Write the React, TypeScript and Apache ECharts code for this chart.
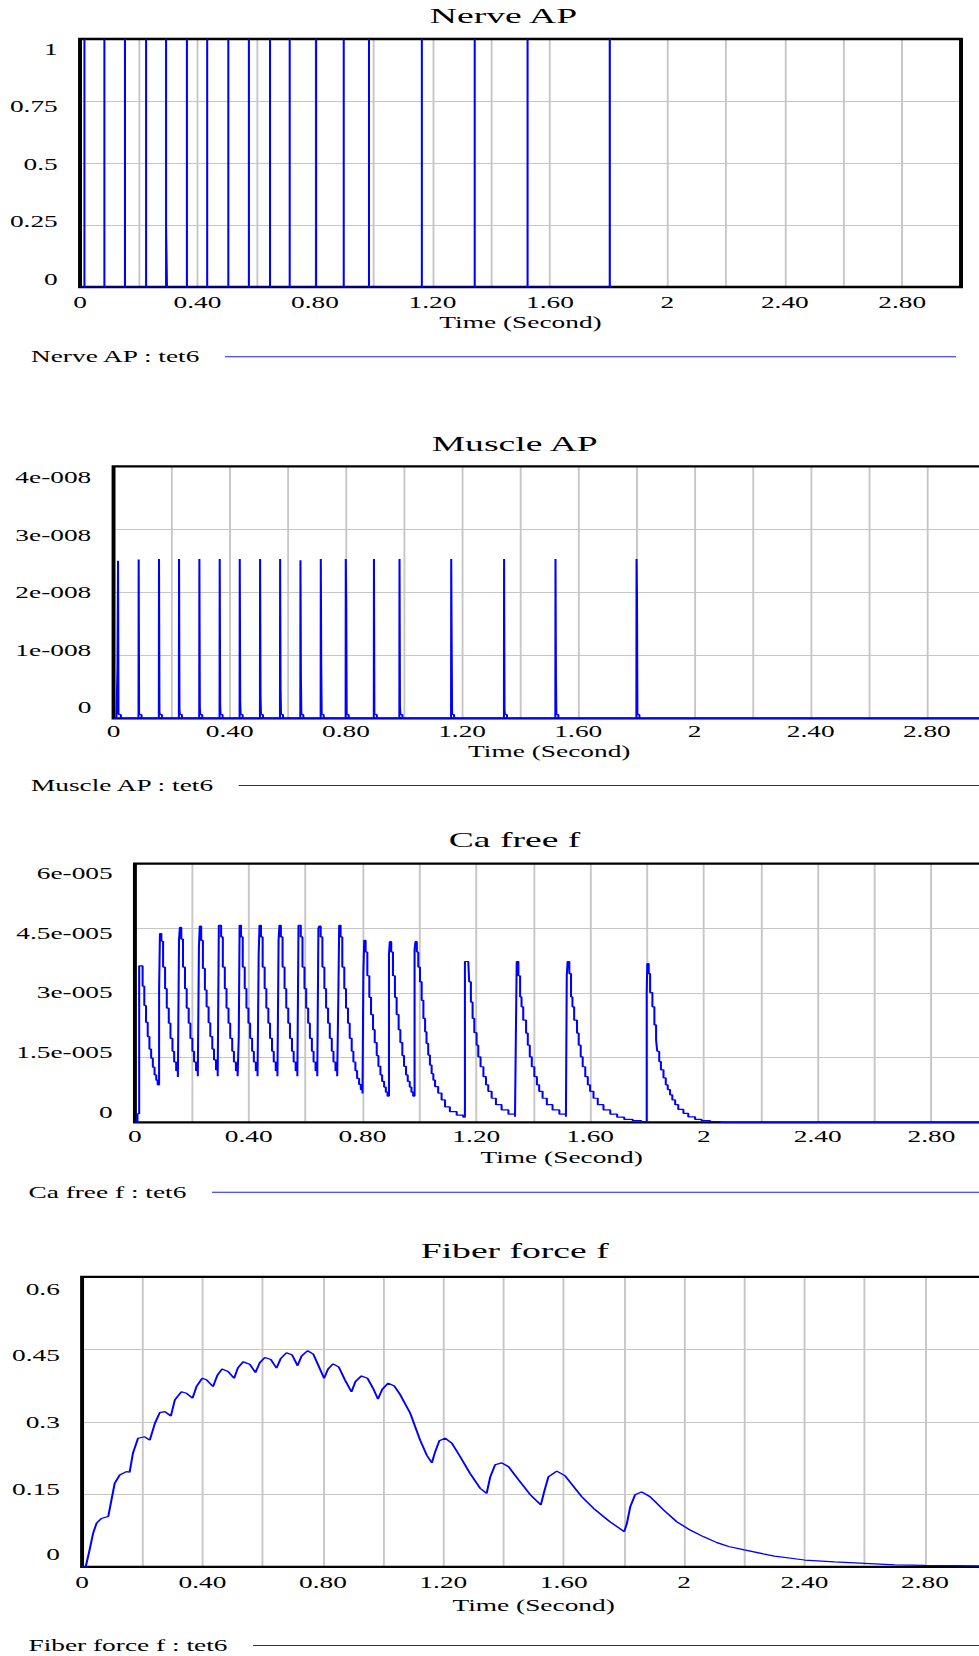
import React, { useEffect, useRef } from 'react';
import * as echarts from 'echarts';

// ---------- layout constants (the reference is horizontally stretched) ----------
const STRETCH = 1.71;
const PAGE_W = 573;
const PAGE_H = 1656;
const FONT = "'Liberation Serif', 'Times New Roman', Times, serif";
const BLUE = '#0000ff';
const GRID_GRAY = '#c6c6c6';

// ---------- data ----------
const timeTickLabels = ['0', '0.40', '0.80', '1.20', '1.60', '2', '2.40', '2.80'];
const timeAxisName = 'Time (Second)';

const nerveYLabels = ['0', '0.25', '0.5', '0.75', '1'];
const muscleYLabels = ['0', '1e-008', '2e-008', '3e-008', '4e-008'];
const caYLabels = ['0', '1.5e-005', '3e-005', '4.5e-005', '6e-005'];
const forceYLabels = ['0', '0.15', '0.3', '0.45', '0.6'];

const chartTitles = ['Nerve AP', 'Muscle AP', 'Ca free f', 'Fiber force f'];
const seriesNames = ['Nerve AP : tet6', 'Muscle AP : tet6', 'Ca free f : tet6', 'Fiber force f : tet6'];

// Nerve AP: spike times (s), level left after the down-stroke
const nerveSpikeTimes = [0.015, 0.083, 0.153, 0.225, 0.293, 0.364, 0.433, 0.505, 0.575, 0.647, 0.714, 0.804, 0.898, 0.984, 1.164, 1.344, 1.524, 1.804];
const nerveTailLevels = [0, 0, 0, 0, 0.25, 0, 0, 0, 0, 0, 0, 0, 0, 0, 0, 0, 0, 0];
const nerveLastTime = 1.806;

// Muscle AP (units of 1e-8): spike times, peak, level right after the peak
const muscleSpikeTimes = [0.015, 0.086, 0.156, 0.225, 0.295, 0.365, 0.434, 0.504, 0.573, 0.643, 0.713, 0.799, 0.896, 0.984, 1.162, 1.344, 1.521, 1.8];
const musclePeakE8 = [2.5, 2.52, 2.53, 2.53, 2.53, 2.53, 2.53, 2.53, 2.53, 2.51, 2.53, 2.53, 2.53, 2.53, 2.53, 2.53, 2.53, 2.53];
const muscleDropE8 = [0.08, 0.08, 0.11, 0.13, 0.17, 0.23, 0.28, 0.36, 0.47, 0.63, 0.82, 1.83, 0.08, 0.18, 1.19, 0.13, 0.66, 1.93];
const muscleFirstRiseE8 = 0.8;
const muscleBumpE8 = 0.06;

// Ca free f (units of 1e-5), [time, value], drawn as a sample-and-hold staircase
const caFreeE5: [number, number][] = [
  [0, 0], [0.009, 0.2],
  [0.015, 3.63], [0.027, 3.16], [0.033, 2.71], [0.039, 2.32], [0.045, 1.99], [0.051, 1.7], [0.057, 1.49], [0.063, 1.28], [0.069, 1.1], [0.075, 0.98], [0.08, 0.87],
  [0.085, 3.07], [0.088, 4.38], [0.093, 4.2], [0.099, 3.6], [0.106, 3.1], [0.112, 2.65], [0.119, 2.3], [0.125, 1.95], [0.132, 1.65], [0.138, 1.4], [0.145, 1.2], [0.151, 1.05],
  [0.155, 4.22], [0.158, 4.52], [0.163, 4.25], [0.169, 3.6], [0.176, 3.1], [0.182, 2.65], [0.189, 2.3], [0.195, 1.95], [0.202, 1.65], [0.208, 1.4], [0.215, 1.2], [0.221, 1.07],
  [0.225, 4.06], [0.228, 4.55], [0.233, 4.22], [0.239, 3.57], [0.246, 3.07], [0.252, 2.68], [0.259, 2.31], [0.265, 1.99], [0.272, 1.7], [0.278, 1.45], [0.285, 1.22], [0.291, 1.07],
  [0.295, 4.57], [0.298, 4.57], [0.303, 4.3], [0.309, 3.6], [0.316, 3.1], [0.322, 2.65], [0.329, 2.3], [0.335, 1.95], [0.342, 1.65], [0.348, 1.4], [0.355, 1.2], [0.361, 1.07],
  [0.365, 2.0], [0.368, 4.57], [0.373, 4.3], [0.379, 3.6], [0.386, 3.1], [0.392, 2.65], [0.399, 2.3], [0.405, 1.95], [0.412, 1.65], [0.418, 1.4], [0.425, 1.2], [0.431, 1.07],
  [0.435, 3.9], [0.438, 4.57], [0.443, 4.3], [0.449, 3.6], [0.456, 3.1], [0.462, 2.65], [0.469, 2.3], [0.475, 1.95], [0.482, 1.65], [0.488, 1.4], [0.495, 1.2], [0.501, 1.07],
  [0.505, 4.22], [0.508, 4.57], [0.513, 4.3], [0.519, 3.6], [0.526, 3.1], [0.532, 2.65], [0.539, 2.3], [0.545, 1.95], [0.552, 1.65], [0.558, 1.4], [0.565, 1.2], [0.571, 1.07],
  [0.575, 4.57], [0.578, 4.57], [0.583, 4.3], [0.589, 3.6], [0.596, 3.1], [0.602, 2.65], [0.609, 2.3], [0.615, 1.95], [0.622, 1.65], [0.628, 1.4], [0.635, 1.2], [0.641, 1.07],
  [0.645, 4.5], [0.648, 4.55], [0.653, 4.3], [0.659, 3.6], [0.666, 3.1], [0.672, 2.65], [0.679, 2.3], [0.685, 1.95], [0.692, 1.65], [0.698, 1.4], [0.705, 1.2], [0.711, 1.07],
  [0.715, 2.9], [0.718, 4.57], [0.723, 4.3], [0.729, 3.6], [0.736, 3.1], [0.742, 2.65], [0.749, 2.3], [0.755, 1.95], [0.762, 1.65], [0.768, 1.4], [0.775, 1.2], [0.781, 1.02], [0.788, 0.88], [0.794, 0.76], [0.8, 0.67],
  [0.803, 3.47], [0.806, 4.22], [0.811, 3.95], [0.817, 3.4], [0.824, 2.9], [0.83, 2.5], [0.837, 2.15], [0.843, 1.85], [0.85, 1.55], [0.856, 1.3], [0.863, 1.1], [0.869, 0.95], [0.876, 0.82], [0.882, 0.7], [0.888, 0.61],
  [0.893, 3.9], [0.896, 4.19], [0.901, 3.95], [0.907, 3.4], [0.914, 2.9], [0.92, 2.5], [0.927, 2.15], [0.933, 1.85], [0.94, 1.55], [0.946, 1.3], [0.953, 1.1], [0.959, 0.95], [0.966, 0.82], [0.972, 0.7], [0.978, 0.61],
  [0.983, 4.0], [0.986, 4.19], [0.991, 3.95], [0.996, 3.6], [1.002, 3.26], [1.008, 2.83], [1.014, 2.41], [1.02, 2.1], [1.025, 1.83], [1.031, 1.56], [1.037, 1.33], [1.043, 1.13], [1.049, 0.98], [1.055, 0.83], [1.066, 0.68], [1.078, 0.52], [1.09, 0.36], [1.107, 0.25], [1.131, 0.17], [1.154, 0.12],
  [1.16, 3.73], [1.172, 3.69], [1.175, 3.26], [1.181, 2.79], [1.187, 2.41], [1.193, 2.08], [1.201, 1.79], [1.207, 1.52], [1.215, 1.29], [1.225, 1.06], [1.234, 0.87], [1.242, 0.72], [1.254, 0.56], [1.269, 0.41], [1.289, 0.29], [1.313, 0.19], [1.336, 0.13],
  [1.339, 1.96], [1.342, 3.73], [1.348, 3.4], [1.354, 2.91], [1.359, 2.68], [1.365, 2.37], [1.375, 2.07], [1.381, 1.79], [1.388, 1.52], [1.395, 1.29], [1.404, 1.06], [1.413, 0.87], [1.421, 0.72], [1.433, 0.56], [1.448, 0.41], [1.468, 0.29], [1.492, 0.19], [1.515, 0.13],
  [1.518, 3.41], [1.521, 3.73], [1.527, 3.45], [1.533, 2.91], [1.538, 2.68], [1.544, 2.37], [1.554, 2.07], [1.56, 1.79], [1.567, 1.52], [1.574, 1.29], [1.583, 1.06], [1.592, 0.87], [1.6, 0.72], [1.612, 0.56], [1.627, 0.41], [1.647, 0.29], [1.671, 0.19], [1.695, 0.12], [1.72, 0.07], [1.75, 0.04], [1.78, 0.02],
  [1.799, 3.01], [1.801, 3.68], [1.806, 3.45], [1.811, 3.01], [1.819, 2.68], [1.826, 2.26], [1.832, 1.91], [1.836, 1.65], [1.843, 1.41], [1.849, 1.22], [1.858, 1.03], [1.866, 0.87], [1.873, 0.76], [1.881, 0.64], [1.889, 0.52], [1.899, 0.41], [1.91, 0.3], [1.928, 0.21], [1.945, 0.13], [1.969, 0.07], [1.992, 0.04], [2.022, 0.02], [2.06, 0], [3.0, 0],
];

// Fiber force f, [time, value]
const fiberForce: [number, number][] = [
  [0, 0], [0.012, 0], [0.014, 0], [0.025, 0.035], [0.0365, 0.069], [0.048, 0.09], [0.064, 0.1], [0.087, 0.104],
  [0.0975, 0.138], [0.1085, 0.173], [0.125, 0.19], [0.147, 0.197], [0.158, 0.196], [0.169, 0.235], [0.186, 0.266],
  [0.208, 0.269], [0.225, 0.262], [0.242, 0.297], [0.258, 0.319], [0.275, 0.321], [0.295, 0.312], [0.308, 0.345],
  [0.33, 0.362], [0.347, 0.359], [0.367, 0.349], [0.38, 0.373], [0.399, 0.39], [0.413, 0.387], [0.435, 0.373],
  [0.45, 0.397], [0.465, 0.409], [0.485, 0.404], [0.505, 0.39], [0.518, 0.412], [0.535, 0.424], [0.557, 0.419],
  [0.576, 0.402], [0.59, 0.422], [0.607, 0.433], [0.627, 0.429], [0.646, 0.411], [0.66, 0.431], [0.679, 0.443],
  [0.698, 0.438], [0.716, 0.416], [0.729, 0.436], [0.749, 0.447], [0.768, 0.44], [0.784, 0.418], [0.804, 0.39],
  [0.817, 0.409], [0.834, 0.42], [0.853, 0.413], [0.873, 0.387], [0.895, 0.362], [0.908, 0.383], [0.928, 0.395],
  [0.948, 0.39], [0.967, 0.369], [0.983, 0.347], [0.997, 0.367], [1.017, 0.38], [1.037, 0.374], [1.056, 0.357],
  [1.09, 0.318], [1.123, 0.262], [1.145, 0.231], [1.162, 0.215], [1.173, 0.238], [1.187, 0.261], [1.206, 0.266],
  [1.228, 0.256], [1.256, 0.228], [1.289, 0.193], [1.323, 0.162], [1.344, 0.152], [1.356, 0.186], [1.372, 0.211],
  [1.394, 0.215], [1.417, 0.207], [1.45, 0.18], [1.489, 0.149], [1.524, 0.128], [1.535, 0.155], [1.549, 0.186],
  [1.577, 0.198], [1.605, 0.188], [1.66, 0.145], [1.699, 0.121], [1.754, 0.093], [1.801, 0.073], [1.81, 0.09],
  [1.821, 0.124], [1.837, 0.149], [1.859, 0.155], [1.887, 0.145], [1.931, 0.118], [1.976, 0.093], [2.02, 0.076],
  [2.065, 0.062], [2.109, 0.05], [2.148, 0.042], [2.2, 0.035], [2.3, 0.022], [2.4, 0.014], [2.5, 0.01],
  [2.6, 0.007], [2.7, 0.004], [2.8, 0.003], [3.0, 0.002],
];

// ---------- series builders (from the read values) ----------
function buildNerve(): number[][] {
  const pts: number[][] = [[0, 0]];
  nerveSpikeTimes.forEach((t, i) => {
    pts.push([t, 0], [t, 1]);
    if (nerveTailLevels[i] > 0) pts.push([t, nerveTailLevels[i]], [t + 0.003, 0]);
    else pts.push([t, 0]);
  });
  pts.push([nerveLastTime, 0]);
  return pts;
}

function buildMuscle(): number[][] {
  const u = 1e-8;
  const pts: number[][] = [[0, 0]];
  muscleSpikeTimes.forEach((t, i) => {
    if (i === 0) pts.push([t - 0.005, 0], [t - 0.0015, muscleFirstRiseE8 * u]);
    else pts.push([t, 0]);
    pts.push(
      [t + 0.0005, musclePeakE8[i] * u],
      [t + 0.002, muscleDropE8[i] * u],
      [t + 0.0035, muscleBumpE8 * u],
      [t + 0.01, muscleBumpE8 * u],
      [t + 0.011, 0],
    );
  });
  pts.push([3, 0]);
  return pts;
}

// ---------- option helpers ----------
const grids = [
  { left: 46.8, top: 39, width: 515.2, height: 248 },
  { left: 66.4, top: 466.3, width: 509.6, height: 252 },
  { left: 78.9, top: 863.6, width: 499.1, height: 258.8 },
  { left: 48.0, top: 1276.8, width: 528.1, height: 290 },
];
const xLabelMargins = [7.2, 5.4, 6.3, 7.9];
const xNameGaps = [27.2, 25.4, 27.3, 31.2];
const yLabelOffsets = [
  [-7.7, -3.3, 2, 5.7, 10.3],
  [-11, -4.8, 0.5, 6, 11.5],
  [-9.7, -5, 0, 5.7, 10.4],
  [-11.8, -5, 0.9, 6.7, 13.2],
];
const yScales = [
  { max: 1, interval: 0.25, labels: nerveYLabels },
  { max: 4e-8, interval: 1e-8, labels: muscleYLabels },
  { max: 6e-5, interval: 1.5e-5, labels: caYLabels },
  { max: 0.6, interval: 0.15, labels: forceYLabels },
];
const titlePos = [
  { x: 294.4, y: 16 },
  { x: 301.0, y: 444 },
  { x: 300.9, y: 840 },
  { x: 301.0, y: 1250.7 },
];
const legendPos = [
  { top: 357.3 - 8.5, width: 427.5 },
  { top: 786 - 8.5, width: 450 },
  { top: 1192.7 - 8.5, width: 460 },
  { top: 1646 - 8.5, width: 440 },
];

const textBase = { fontFamily: FONT, fontSize: 16, color: '#000' };

function richFor(offsets: number[]) {
  const r: Record<string, any> = {};
  offsets.forEach((d, i) => {
    r['o' + i] = {
      ...textBase,
      padding: d >= 0 ? [2 * d, 0, 0, 0] : [0, 0, -2 * d, 0],
    };
  });
  return r;
}

function buildOption() {
  const splitLine = {
    show: true,
    showMinLine: false,
    showMaxLine: false,
    lineStyle: { color: GRID_GRAY, width: 1.1 },
  };
  const xAxes = grids.map((_, i) => ({
    type: 'value',
    gridIndex: i,
    min: 0,
    max: 3,
    interval: 0.2,
    axisLine: { show: false },
    axisTick: { show: false },
    splitLine,
    axisLabel: {
      ...textBase,
      margin: xLabelMargins[i],
      formatter: (v: number) => {
        const k = Math.round(v / 0.2);
        if (k % 2 !== 0) return '';
        return timeTickLabels[k / 2] ?? '';
      },
    },
    name: timeAxisName,
    nameLocation: 'middle',
    nameGap: xNameGaps[i],
    nameTextStyle: { ...textBase },
  }));
  const yAxes = grids.map((_, i) => ({
    type: 'value',
    gridIndex: i,
    min: 0,
    max: yScales[i].max,
    interval: yScales[i].interval,
    axisLine: { show: false },
    axisTick: { show: false },
    splitLine,
    axisLabel: {
      ...textBase,
      margin: 13,
      formatter: (v: number) => {
        const k = Math.round(v / yScales[i].interval);
        return `{o${k}|${yScales[i].labels[k] ?? ''}}`;
      },
      rich: richFor(yLabelOffsets[i]),
    },
  }));
  const lineStyle = { color: BLUE, width: 1.2 };
  const seriesData = [
    buildNerve(),
    buildMuscle(),
    caFreeE5.map(([t, v]) => [t, v * 1e-5]),
    fiberForce.map(([t, v]) => [t, v]),
  ];
  const series = seriesData.map((data, i) => ({
    name: seriesNames[i],
    type: 'line',
    xAxisIndex: i,
    yAxisIndex: i,
    data,
    step: i === 2 ? 'end' : false,
    showSymbol: false,
    symbol: 'none',
    lineStyle,
    itemStyle: { color: BLUE },
    color: BLUE,
    z: 5,
    silent: true,
    clip: true,
  }));
  const legend = seriesNames.map((name, i) => ({
    data: [{ name, itemStyle: { color: '#1a1aff' } }],
    left: 16.6,
    top: legendPos[i].top,
    orient: 'horizontal',
    align: 'right',
    icon: 'rect',
    itemWidth: legendPos[i].width,
    itemHeight: 1,
    padding: 0,
    selectedMode: false,
    textStyle: { ...textBase, padding: [0, 10, 0, 0] },
  }));
  const graphic = chartTitles.map((title, i) => ({
    type: 'text',
    x: titlePos[i].x,
    y: titlePos[i].y,
    silent: true,
    style: {
      text: title,
      font: `22px ${FONT}`,
      fontSize: 22,
      fontFamily: FONT,
      fill: '#000',
      align: 'center',
      verticalAlign: 'middle',
      textAlign: 'center',
      textVerticalAlign: 'middle',
    },
  }));
  return {
    animation: false,
    backgroundColor: '#ffffff',
    textStyle: { fontFamily: FONT },
    grid: grids.map((g) => ({
      ...g,
      show: true,
      borderColor: '#000',
      borderWidth: 2.3,
      backgroundColor: 'transparent',
      containLabel: false,
      outerBoundsMode: 'none',
      z: 3,
    })),
    xAxis: xAxes,
    yAxis: yAxes,
    series,
    legend,
    graphic,
  };
}

export default function App() {
  const ref = useRef<HTMLDivElement>(null);
  useEffect(() => {
    document.documentElement.style.overflow = 'hidden';
    document.body.style.overflow = 'hidden';
    if (!ref.current) return;
    const chart = echarts.init(ref.current, undefined, { renderer: 'svg' });
    chart.setOption(buildOption() as any);
    return () => {
      chart.dispose();
    };
  }, []);
  return (
    <div
      ref={ref}
      style={{
        position: 'absolute',
        left: 0,
        top: 0,
        width: PAGE_W,
        height: PAGE_H,
        transform: `scaleX(${STRETCH})`,
        transformOrigin: '0 0',
        background: '#fff',
      }}
    />
  );
}
